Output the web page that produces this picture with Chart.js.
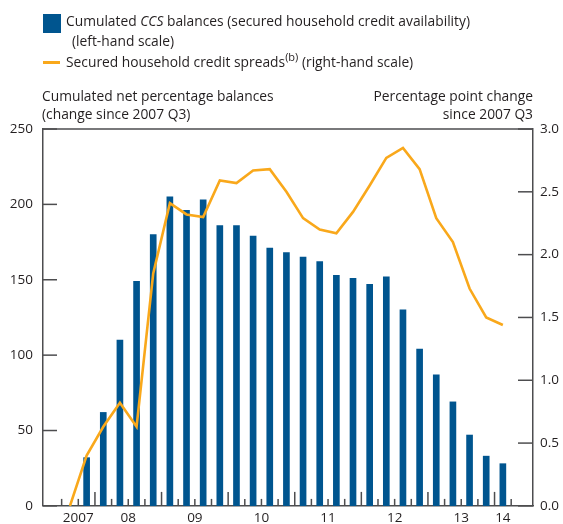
<!DOCTYPE html>
<html>
<head>
<meta charset="utf-8">
<script src="https://cdn.jsdelivr.net/npm/chart.js@4/dist/chart.umd.min.js"></script>
<style>
  body { margin: 0; background: #fff; }
  #wrap { position: relative; width: 563px; height: 524px; font-family: 'Open Sans', sans-serif; color: #231f20; font-size: 13.8px; }
  #wrap canvas { position: absolute; left: 0; top: 0; }
  .t { position: absolute; white-space: nowrap; line-height: 18px; }
  .swatch { position: absolute; left: 43px; top: 14px; width: 18px; height: 19px; background: #00558f; }
  .dash { position: absolute; left: 43px; top: 61px; width: 17px; height: 3px; background: #f9a81b; }
  sup { font-size: 11px; line-height: 0; }
</style>
</head>
<body>
<div id="wrap">
  <canvas id="chart" width="563" height="524"></canvas>
  <div class="swatch"></div>
  <div class="t" style="left:66px; top:12px;">Cumulated <i>CCS</i> balances (secured household credit availability)</div>
  <div class="t" style="left:72px; top:32px;">(left-hand scale)</div>
  <div class="dash"></div>
  <div class="t" style="left:66px; top:53px;">Secured household credit spreads<sup>(b)</sup> (right-hand scale)</div>
  <div class="t" style="left:42px; top:87px;">Cumulated net percentage balances</div>
  <div class="t" style="left:42px; top:105px;">(change since 2007 Q3)</div>
  <div class="t" style="right:30px; top:87px; text-align:right;">Percentage point change</div>
  <div class="t" style="right:30px; top:105px; text-align:right;">since 2007 Q3</div>
</div>
<script>
// quarters from 2007 Q3 to 2014 Q1
const quarters = ['2007 Q3', '2007 Q4',
  '2008 Q1', '2008 Q2', '2008 Q3', '2008 Q4',
  '2009 Q1', '2009 Q2', '2009 Q3', '2009 Q4',
  '2010 Q1', '2010 Q2', '2010 Q3', '2010 Q4',
  '2011 Q1', '2011 Q2', '2011 Q3', '2011 Q4',
  '2012 Q1', '2012 Q2', '2012 Q3', '2012 Q4',
  '2013 Q1', '2013 Q2', '2013 Q3', '2013 Q4',
  '2014 Q1'];

// cumulated CCS balances (left-hand scale)
const ccsBalances = [0, 32, 62, 110, 149, 180, 205, 196, 203, 186, 186, 179, 171, 168,
  165, 162, 153, 151, 147, 152, 130, 104, 87, 69, 47, 33, 28];

// secured household credit spreads (right-hand scale)
const creditSpreads = [0, 0.40, 0.63, 0.82, 0.63, 1.85, 2.41, 2.32, 2.30, 2.59, 2.57, 2.67, 2.68,
  2.50, 2.29, 2.20, 2.17, 2.34, 2.55, 2.77, 2.85, 2.68, 2.29, 2.10, 1.73, 1.50, 1.44];

const years = ['2007', '2008', '2009', '2010', '2011', '2012', '2013', '2014'];
const yearLabels = ['2007', '08', '09', '10', '11', '12', '13', '14'];

const leftTicks = [0, 50, 100, 150, 200, 250];
const rightTicks = [0, 0.5, 1, 1.5, 2, 2.5, 3];

const axisColor = '#4d4d4f';
const textColor = '#231f20';

// year label sits in the middle of the quarters of that year
const yearPos = years.map(y => {
  const idx = quarters.map((q, i) => q.startsWith(y) ? i : -1).filter(i => i >= 0);
  return idx.reduce((a, b) => a + b, 0) / idx.length;
});

const canvas = document.querySelector('#chart');

// tick marks point into the plot, so they are drawn here
const innerTicks = {
  id: 'innerTicks',
  afterDatasetsDraw(chart) {
    const ctx = chart.ctx;
    const a = chart.chartArea;
    const x = chart.scales.x, y = chart.scales.y, y2 = chart.scales.y2;
    ctx.save();
    ctx.strokeStyle = axisColor;
    ctx.lineWidth = 1.5;
    const line = (x1, y1, x2, y2) => { ctx.beginPath(); ctx.moveTo(x1, y1); ctx.lineTo(x2, y2); ctx.stroke(); };
    line(a.left, a.top, a.right, a.top);
    y.ticks.forEach(t => { const p = y.getPixelForValue(t.value); line(a.left, p, a.left + 14, p); });
    y2.ticks.forEach(t => { const p = y2.getPixelForValue(t.value); line(a.right - 15, p, a.right, p); });
    for (let i = 0; i <= quarters.length; i++) {
      const p = x.getPixelForValue(i - 0.5);
      const tall = quarters[i] && quarters[i].endsWith('Q1');
      line(p, a.bottom, p, a.bottom - (tall ? 14 : 7));
    }
    ctx.restore();
  }
};

new Chart(canvas, {
  type: 'bar',
  data: {
    datasets: [{
      type: 'line',
      label: 'Secured household credit spreads',
      data: creditSpreads.map((v, i) => ({ x: i, y: v })),
      yAxisID: 'y2',
      borderColor: '#f9a81b',
      borderWidth: 2.6,
      pointRadius: 0,
      tension: 0,
      order: 0
    }, {
      label: 'Cumulated CCS balances',
      data: ccsBalances.map((v, i) => ({ x: i, y: v })),
      yAxisID: 'y',
      backgroundColor: '#00558f',
      barThickness: 6,
      order: 1
    }]
  },
  options: {
    responsive: false,
    animation: false,
    layout: { padding: { top: 129, left: 0, right: 0, bottom: 0 } },
    plugins: { legend: { display: false }, tooltip: { enabled: false } },
    scales: {
      x: {
        type: 'linear',
        offset: false,
        min: -1.62,
        max: 27.81,
        grid: { display: false, drawTicks: false },
        border: { display: true, color: axisColor, width: 1.5 },
        afterBuildTicks: s => { s.ticks = yearPos.map(v => ({ value: v })); },
        afterFit: s => { s.height = 18; },
        ticks: {
          autoSkip: false,
          maxRotation: 0,
          padding: 4,
          color: textColor,
          font: { family: 'Open Sans', size: 13.5 },
          callback: v => yearLabels[yearPos.indexOf(v)]
        }
      },
      y: {
        position: 'left',
        min: 0,
        max: 250,
        afterBuildTicks: s => { s.ticks = leftTicks.map(v => ({ value: v })); },
        afterFit: s => { s.width = 43; },
        grid: { display: false, drawTicks: false },
        border: { display: true, color: axisColor, width: 1.5 },
        ticks: { padding: 10, color: textColor, font: { family: 'Open Sans', size: 13.5 } }
      },
      y2: {
        position: 'right',
        min: 0,
        max: 3,
        afterBuildTicks: s => { s.ticks = rightTicks.map(v => ({ value: v })); },
        afterFit: s => { s.width = 30; },
        grid: { display: false, drawTicks: false },
        border: { display: true, color: axisColor, width: 1.5 },
        ticks: { padding: 7, color: textColor, font: { family: 'Open Sans', size: 13.5 }, callback: v => v.toFixed(1) }
      }
    }
  },
  plugins: [innerTicks]
});
</script>
</body>
</html>
